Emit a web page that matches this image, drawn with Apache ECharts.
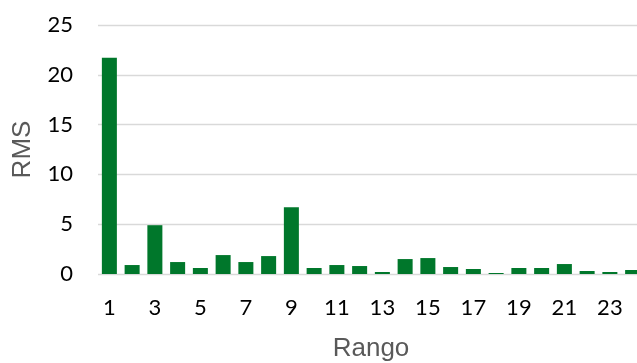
<!DOCTYPE html>
<html>
<head>
<meta charset="utf-8">
<script src="https://cdn.jsdelivr.net/npm/echarts@6/dist/echarts.min.js"></script>
<style>
  html, body { margin: 0; padding: 0; background: #fff; }
  #chart { width: 637px; height: 363px; }
</style>
</head>
<body>
<div id="chart"></div>
<script>
// Range index (1..24) and its RMS value
const categories = ['1','2','3','4','5','6','7','8','9','10','11','12','13','14','15','16','17','18','19','20','21','22','23','24'];
const rmsValues = [21.7, 0.9, 4.9, 1.2, 0.6, 1.9, 1.2, 1.8, 6.7, 0.6, 0.9, 0.8, 0.2, 1.5, 1.6, 0.7, 0.5, 0.1, 0.6, 0.6, 1.0, 0.3, 0.2, 0.4];
const yTicks = [0, 5, 10, 15, 20, 25];

const chart = echarts.init(document.getElementById('chart'), null, { renderer: 'canvas' });
chart.setOption({
  animation: false,
  backgroundColor: '#ffffff',
  // plot area runs slightly past the right edge, so the last bar is cut off
  grid: { left: 98, top: 25, width: 546, bottom: 89, containLabel: false, outerBoundsMode: 'none' },
  xAxis: {
    type: 'category',
    data: categories,
    name: 'Rango',
    nameLocation: 'middle',
    nameGap: 62,
    nameTextStyle: { fontFamily: 'Liberation Sans, Arial', fontSize: 26, color: '#595959' },
    axisLine: { show: false },
    axisTick: { show: false },
    axisLabel: { interval: 1, margin: 23, fontFamily: 'Lato, Noto Sans', fontSize: 22, color: '#000' }
  },
  yAxis: {
    type: 'value',
    min: yTicks[0],
    max: yTicks[yTicks.length - 1],
    interval: 5,
    name: 'RMS',
    nameLocation: 'middle',
    nameGap: 62,
    nameTextStyle: { fontFamily: 'Liberation Sans, Arial', fontSize: 26, color: '#595959' },
    axisLine: { show: false },
    axisTick: { show: false },
    axisLabel: { margin: 25, fontFamily: 'Lato, Noto Sans', fontSize: 22, color: '#000' },
    splitLine: { lineStyle: { color: '#d9d9d9', width: 1.3 } }
  },
  series: [{
    type: 'bar',
    data: rmsValues,
    barWidth: '66%',
    itemStyle: { color: '#00772b' }
  }]
});
</script>
</body>
</html>
